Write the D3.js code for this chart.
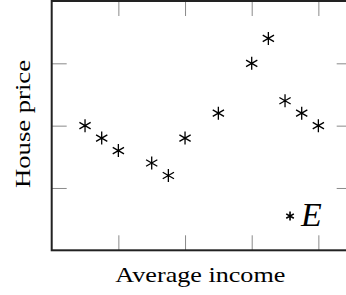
<!DOCTYPE html>
<html>
<head>
<meta charset="utf-8">
<script src="https://cdn.jsdelivr.net/npm/d3@7"></script>
<style>
  body { margin: 0; background: #fff; }
  svg { display: block; }
</style>
</head>
<body>
<svg width="346" height="295"></svg>
<script>
// data
var incomeX = [2, 3, 4, 6, 7, 8, 10, 12, 13, 14, 15, 16];
var priceY  = [2.0, 1.8, 1.6, 1.4, 1.2, 1.8, 2.2, 3.0, 3.4, 2.4, 2.2, 2.0];
var xTicks = [4, 8, 12, 16];
var yTicks = [1, 2, 3];
var pointE = [14.3, 0.55];
var labelE = "E";

var svg = d3.select('svg');

// plot box edges (window.top is reserved, so prefixed names)
var boxL = 51.7, boxR = 351.7, boxT = 1, boxB = 250.3;

var x = d3.scaleLinear().domain([0, 18]).range([boxL, boxR]);
var y = d3.scaleLinear().domain([0, 4]).range([boxB, boxT]);

// ticks on all four sides, pointing inward, no labels
function ticks(axis, tx, ty){
    var g = svg.append('g')
        .attr('transform', 'translate(' + tx + ',' + ty + ')')
        .call(axis.tickSize(-15).tickFormat(''));
    g.select('.domain').remove();
    g.selectAll('line').attr('stroke', '#8a8a8a').attr('stroke-width', 1);
}
ticks(d3.axisBottom(x).tickValues(xTicks), 0, boxB);
ticks(d3.axisTop(x).tickValues(xTicks), 0, boxT);
ticks(d3.axisLeft(y).tickValues(yTicks), boxL, 0);
ticks(d3.axisRight(y).tickValues(yTicks), boxR, 0);

// frame
svg.append('rect')
    .attr('x', boxL).attr('y', boxT)
    .attr('width', boxR - boxL).attr('height', boxB - boxT)
    .attr('fill', 'none')
    .attr('stroke', '#222')
    .attr('stroke-width', 2);

// asterisk mark: vertical arm plus two diagonals
function asterisk(r){
    var p = '';
    [90, 30, 150].forEach(function(a){
        var dx = r * Math.cos(a * Math.PI / 180);
        var dy = r * Math.sin(a * Math.PI / 180);
        p += 'M' + (-dx) + ',' + (-dy) + 'L' + dx + ',' + dy;
    });
    return p;
}

var data = incomeX.map(function(v, i){ return [v, priceY[i]]; });

svg.append('g').selectAll('path')
    .data(data)
    .enter().append('path')
    .attr('transform', function(d){ return 'translate(' + x(d[0]) + ',' + y(d[1]) + ')'; })
    .attr('d', asterisk(6.5))
    .attr('stroke', '#000')
    .attr('stroke-width', 1.3)
    .attr('fill', 'none');

// the E marker and label
svg.append('path')
    .attr('transform', 'translate(' + x(pointE[0]) + ',' + y(pointE[1]) + ')')
    .attr('d', asterisk(4.4))
    .attr('stroke', '#000')
    .attr('stroke-width', 1.6);

svg.append('text')
    .attr('x', x(pointE[0]) + 11)
    .attr('y', y(pointE[1]) + 9.5)
    .attr('font-family', 'Liberation Serif')
    .attr('font-style', 'italic')
    .attr('font-size', 34)
    .text(labelE);

// axis labels
svg.append('text')
    .attr('x', (boxL + 350) / 2 - 0.5)
    .attr('y', 282)
    .attr('text-anchor', 'middle')
    .attr('font-family', 'Liberation Serif')
    .attr('font-size', 22)
    .attr('textLength', 170)
    .attr('lengthAdjust', 'spacingAndGlyphs')
    .text('Average income');

svg.append('text')
    .attr('transform', 'translate(30,124) rotate(-90)')
    .attr('text-anchor', 'middle')
    .attr('font-family', 'Liberation Serif')
    .attr('font-size', 22)
    .attr('textLength', 128)
    .attr('lengthAdjust', 'spacingAndGlyphs')
    .text('House price');
</script>
</body>
</html>
